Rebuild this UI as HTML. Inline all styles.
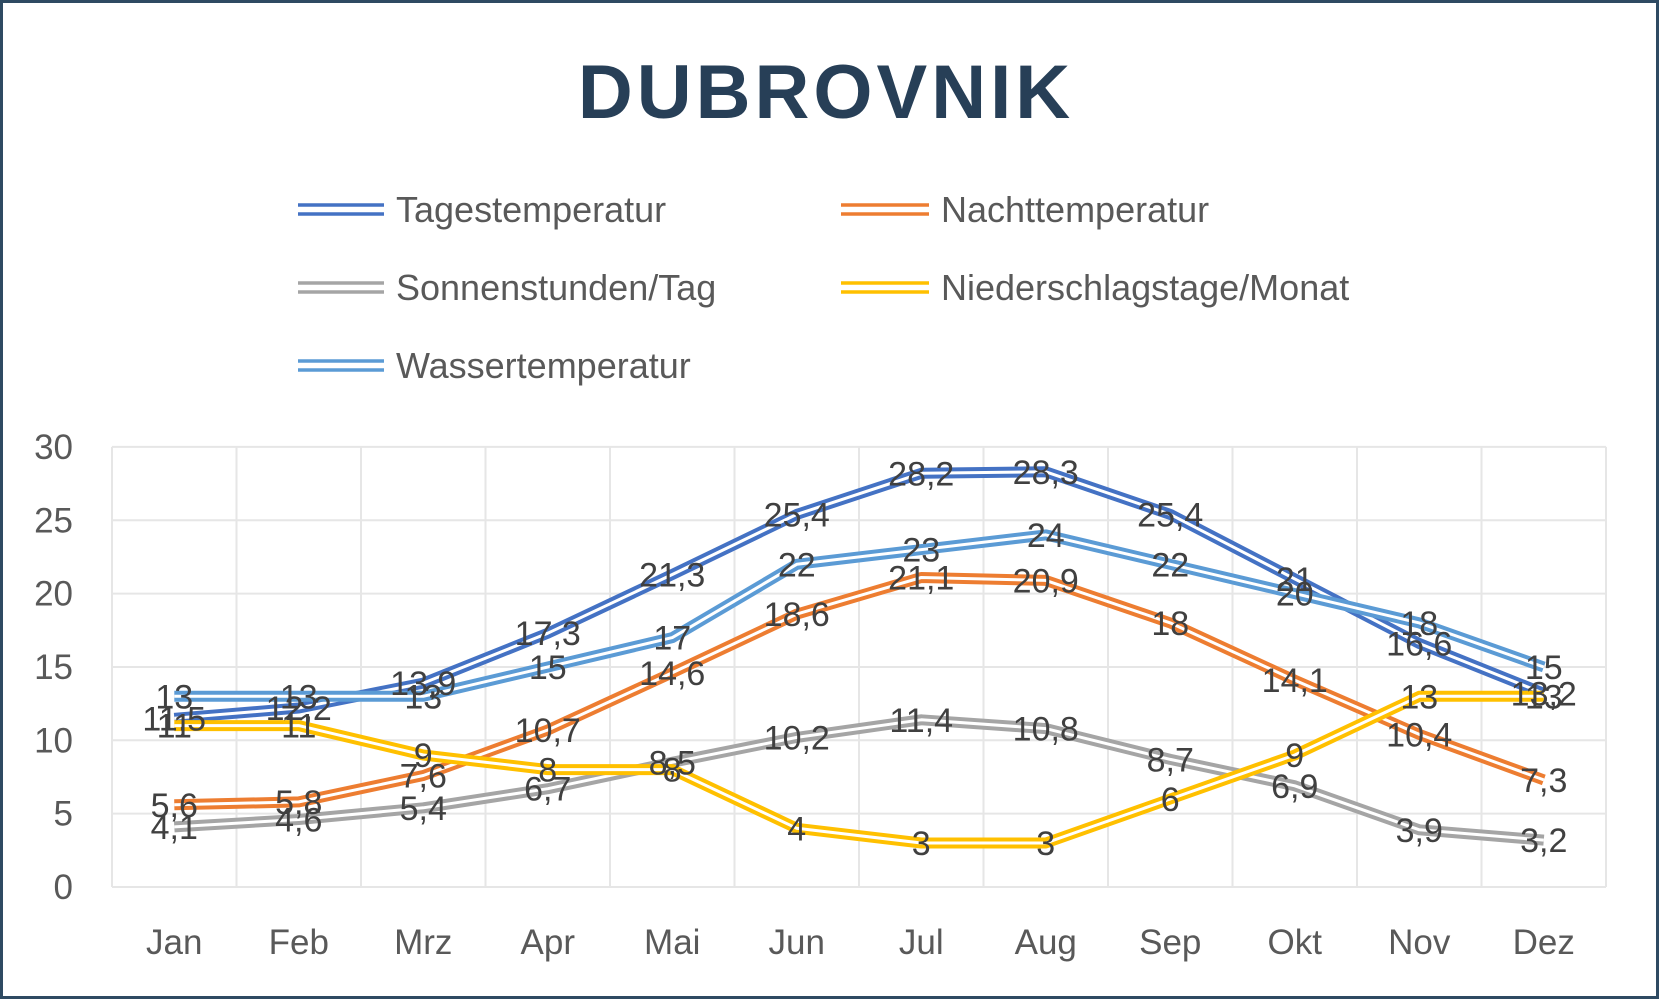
<!DOCTYPE html>
<html><head><meta charset="utf-8"><style>
body{margin:0;background:#fff;}
svg{display:block;font-family:"Liberation Sans",sans-serif;}
</style></head><body>
<svg width="1659" height="999" viewBox="0 0 1659 999" xmlns="http://www.w3.org/2000/svg">
<rect x="1.5" y="1.5" width="1656" height="996" fill="#fff" stroke="#2e4a62" stroke-width="3"/>
<text x="826" y="118" text-anchor="middle" font-size="76" font-weight="bold" letter-spacing="4" fill="#273f57">DUBROVNIK</text>
<g font-size="36" fill="#595959">
<g stroke-width="3.5">
<line x1="298" y1="205" x2="384" y2="205" stroke="#4472c4"/><line x1="298" y1="214" x2="384" y2="214" stroke="#4472c4"/>
<line x1="841" y1="205" x2="929" y2="205" stroke="#ed7d31"/><line x1="841" y1="214" x2="929" y2="214" stroke="#ed7d31"/>
<line x1="298" y1="283" x2="384" y2="283" stroke="#a5a5a5"/><line x1="298" y1="292" x2="384" y2="292" stroke="#a5a5a5"/>
<line x1="841" y1="283" x2="929" y2="283" stroke="#ffc000"/><line x1="841" y1="292" x2="929" y2="292" stroke="#ffc000"/>
<line x1="298" y1="361" x2="384" y2="361" stroke="#5b9bd5"/><line x1="298" y1="370" x2="384" y2="370" stroke="#5b9bd5"/>
</g>
<text x="396" y="222">Tagestemperatur</text>
<text x="941" y="222">Nachttemperatur</text>
<text x="396" y="300">Sonnenstunden/Tag</text>
<text x="941" y="300">Niederschlagstage/Monat</text>
<text x="396" y="378">Wassertemperatur</text>
</g>
<g id="grid" stroke="#e6e6e6" stroke-width="2"></g>
<g id="axes" font-size="35" fill="#595959"></g>
<g id="series"></g>
<g id="labels" font-size="34" fill="#404040"></g>
<script>
var L=112,W=124.5,Y0=887,S=14.67,ns="http://www.w3.org/2000/svg";
function el(p,t,a,txt){var e=document.createElementNS(ns,t);for(var k in a)e.setAttribute(k,a[k]);if(txt!=null)e.textContent=txt;document.getElementById(p).appendChild(e);}
for(var i=0;i<=6;i++){var y=Y0-i*5*S;el("grid","line",{x1:L,y1:y,x2:L+12*W,y2:y});el("axes","text",{x:73,y:y+12,"text-anchor":"end"},String(i*5));}
var m=["Jan","Feb","Mrz","Apr","Mai","Jun","Jul","Aug","Sep","Okt","Nov","Dez"];
for(var i=0;i<=12;i++){el("grid","line",{x1:L+i*W,y1:Y0-30*S,x2:L+i*W,y2:Y0});}
for(var i=0;i<12;i++)el("axes","text",{x:L+(i+.5)*W,y:954,"text-anchor":"middle"},m[i]);
var D=[["#4472c4",[11.5,12.2,13.9,17.3,21.3,25.4,28.2,28.3,25.4,21,16.6,13.2]],
["#ed7d31",[5.6,5.8,7.6,10.7,14.6,18.6,21.1,20.9,18,14.1,10.4,7.3]],
["#a5a5a5",[4.1,4.6,5.4,6.7,8.5,10.2,11.4,10.8,8.7,6.9,3.9,3.2]],
["#ffc000",[11,11,9,8,8,4,3,3,6,9,13,13]],
["#5b9bd5",[13,13,13,15,17,22,23,24,22,20,18,15]]];
D.forEach(function(s){var pts=s[1].map(function(v,i){return (L+(i+.5)*W).toFixed(1)+","+(Y0-v*S).toFixed(1)}).join(" ");
el("series","polyline",{points:pts,fill:"none",stroke:s[0],"stroke-width":11,"stroke-linejoin":"round"});
el("series","polyline",{points:pts,fill:"none",stroke:"#fff","stroke-width":3,"stroke-linejoin":"round"});});
D.forEach(function(s){s[1].forEach(function(v,i){el("labels","text",{x:L+(i+.5)*W,y:Y0-v*S+12,"text-anchor":"middle"},String(v).replace(".",","));});});
</script>
</svg>
</body></html>
